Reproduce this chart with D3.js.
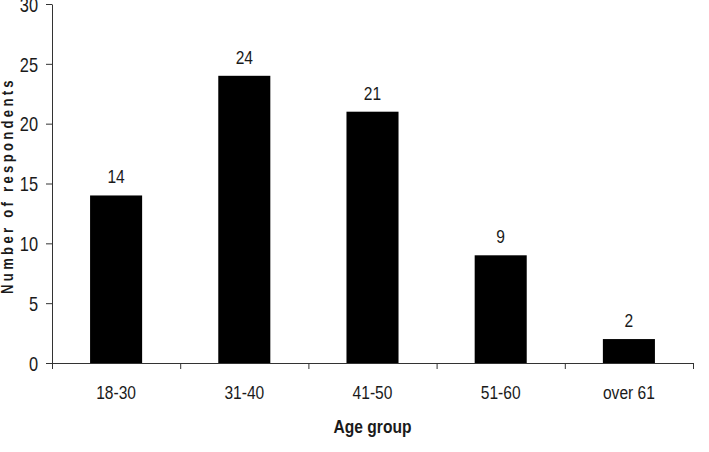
<!DOCTYPE html>
<html>
<head>
<meta charset="utf-8">
<script src="https://cdn.jsdelivr.net/npm/d3@7"></script>
<style>
  body { margin:0; background:#fff; }
  svg text { font-family:"Liberation Sans Narrow","Arial Narrow","Liberation Sans",Arial,sans-serif; }
</style>
</head>
<body>
<div id="chart"></div>
<script>
// data
const ageGroups = ["18-30","31-40","41-50","51-60","over 61"];
const respondents = [14, 24, 21, 9, 2];
const yTicks = [0, 5, 10, 15, 20, 25, 30];

const width = 709, height = 452;
const margin = { left:52, right:16, top:4, bottom:89 };
const narrow = 0.82;   // no narrow font installed, squeeze Liberation Sans instead

const svg = d3.select("#chart").append("svg")
    .attr("width", width).attr("height", height);

const x = d3.scaleBand()
    .domain(ageGroups)
    .range([margin.left, width - margin.right])
    .paddingInner(0.594).paddingOuter(0.297);

const y = d3.scaleLinear()
    .domain([0, 30])
    .range([height - margin.bottom, margin.top]);

const axisColor = "#333";
const textColor = "#1a1a1a";

// bars
svg.selectAll(".bar").data(respondents)
    .join("rect")
    .attr("class","bar")
    .attr("x", (d,i)=>x(ageGroups[i]))
    .attr("y", d=>y(d))
    .attr("width", x.bandwidth())
    .attr("height", d=>y(0)-y(d))
    .attr("fill","#000");

// value labels
svg.selectAll(".val").data(respondents)
    .join("text")
    .attr("class","val")
    .attr("transform", (d,i)=>`translate(${x(ageGroups[i]) + x.bandwidth()/2},${y(d) - 12}) scale(${narrow},1)`)
    .attr("text-anchor","middle")
    .style("font-size","19px")
    .style("fill",textColor)
    .text(d=>d);

// y axis
const yAxis = svg.append("g")
    .attr("transform",`translate(${margin.left},0)`)
    .call(d3.axisLeft(y).tickValues(yTicks).tickSize(6).tickSizeOuter(0));
yAxis.select(".domain").attr("stroke",axisColor);
yAxis.selectAll(".tick line").attr("stroke",axisColor);
yAxis.selectAll(".tick text")
    .attr("x", -14/narrow)
    .attr("dy","0.36em")
    .attr("transform",`scale(${narrow},1)`)
    .style("font-size","20px").style("fill",textColor);

// x axis line + boundary ticks
const step = x.step();
const edges = d3.range(ageGroups.length + 1).map(i => x.range()[0] + i*step);
svg.append("line")
    .attr("x1", x.range()[0]).attr("x2", x.range()[1])
    .attr("y1", y(0)+0.5).attr("y2", y(0)+0.5)
    .attr("stroke",axisColor);
svg.selectAll(".xtick").data(edges)
    .join("line")
    .attr("class","xtick")
    .attr("x1", d=>d+0.5).attr("x2", d=>d+0.5)
    .attr("y1", y(0)).attr("y2", y(0)+6)
    .attr("stroke",axisColor);

// category labels
svg.selectAll(".cat").data(ageGroups)
    .join("text")
    .attr("class","cat")
    .attr("transform", d=>`translate(${x(d) + x.bandwidth()/2},${y(0) + 36}) scale(${narrow},1)`)
    .attr("text-anchor","middle")
    .style("font-size","19px")
    .style("fill",textColor)
    .text(d=>d);

// axis titles
svg.append("text")
    .attr("transform",`translate(${(x.range()[0] + x.range()[1])/2},433) scale(${narrow},1)`)
    .attr("text-anchor","middle")
    .style("font-size","19px")
    .style("font-weight","bold")
    .style("fill",textColor)
    .text("Age group");

svg.append("text")
    .attr("transform",`translate(13,${(y(0)+y(30))/2 + 2}) rotate(-90) scale(${narrow},1)`)
    .attr("text-anchor","middle")
    .style("font-size","16px")
    .style("font-weight","bold")
    .style("letter-spacing","4px")
    .style("fill",textColor)
    .text("Number of respondents");
</script>
</body>
</html>
